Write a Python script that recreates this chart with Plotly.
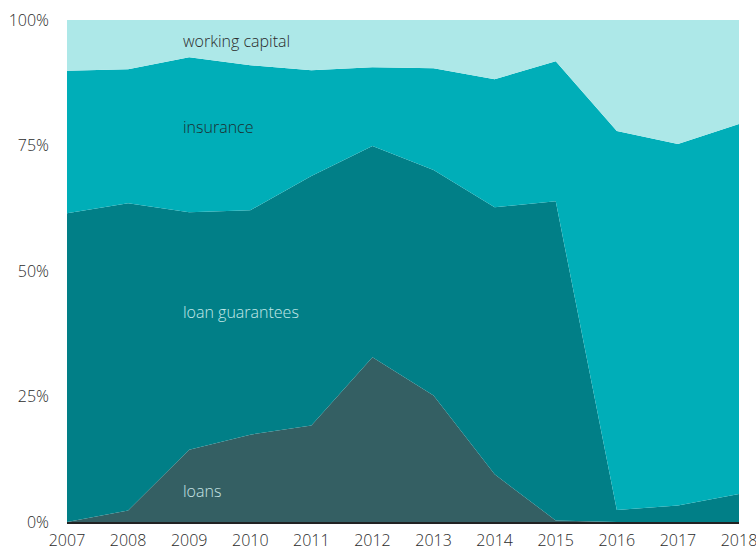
import plotly.graph_objects as go

years = list(range(2007, 2019))

# Share of each instrument, percent of total per year
loans = [0, 2.3, 14.4, 17.4, 19.2, 32.8, 25.2, 9.5, 0.3, 0, 0, 0]
loan_guarantees = [61.5, 61.2, 47.3, 44.7, 49.7, 42.1, 44.9, 53.2, 63.6, 2.4, 3.3, 5.6]
insurance = [28.4, 26.7, 30.9, 28.9, 21.1, 15.7, 20.3, 25.5, 27.9, 75.5, 72.0, 73.7]
working_capital = [10.1, 9.8, 7.4, 9.0, 10.0, 9.4, 9.6, 11.8, 8.2, 22.1, 24.7, 20.7]

series = [
    ("loans", loans, "#345F63"),
    ("loan guarantees", loan_guarantees, "#017F87"),
    ("insurance", insurance, "#00AEB8"),
    ("working capital", working_capital, "#ADE8E8"),
]

FONT = "Open Sans"

fig = go.Figure()
for name, vals, color in series:
    fig.add_trace(go.Scatter(
        x=years, y=vals, name=name, mode="lines",
        stackgroup="one", groupnorm="percent",
        line=dict(width=0, color=color), fillcolor=color,
        hoverinfo="x+y+name",
    ))

# In-area labels
labels = [
    ("working capital", 95.8, "#2b2b2b"),
    ("insurance", 78.7, "#1c2e30"),
    ("loan guarantees", 41.9, "#C2E8E8"),
    ("loans", 6.2, "#C7E3E3"),
]
for text, y, color in labels:
    fig.add_annotation(x=2008.87, y=y, text=text, showarrow=False,
                       xanchor="left", yanchor="middle",
                       font=dict(family=FONT, size=16, color=color, weight=300))

fig.update_layout(
    width=756, height=552,
    margin=dict(l=67, r=17, t=20, b=30),
    paper_bgcolor="white", plot_bgcolor="white",
    showlegend=False,
    font=dict(family=FONT, size=16, color="#2b2b2b", weight=300),
    xaxis=dict(range=[2007, 2018], tickmode="linear", tick0=2007, dtick=1,
               showgrid=False, zeroline=False, showline=True,
               linecolor="#222222", linewidth=1.5,
               ticks="", ticklabelstandoff=3, automargin=False,
               ticklabeloverflow="allow",
               tickfont=dict(family=FONT, size=16, color="#2b2b2b", weight=300)),
    yaxis=dict(range=[0, 100], tickvals=[0, 25, 50, 75, 100],
               ticktext=["0%", "25%", "50%", "75%", "100%"],
               showgrid=False, zeroline=False, showline=False,
               ticks="", ticklabelstandoff=17, automargin=False,
               ticklabeloverflow="allow",
               tickfont=dict(family=FONT, size=16, color="#2b2b2b", weight=300)),
)

fig.write_html("out.html")
